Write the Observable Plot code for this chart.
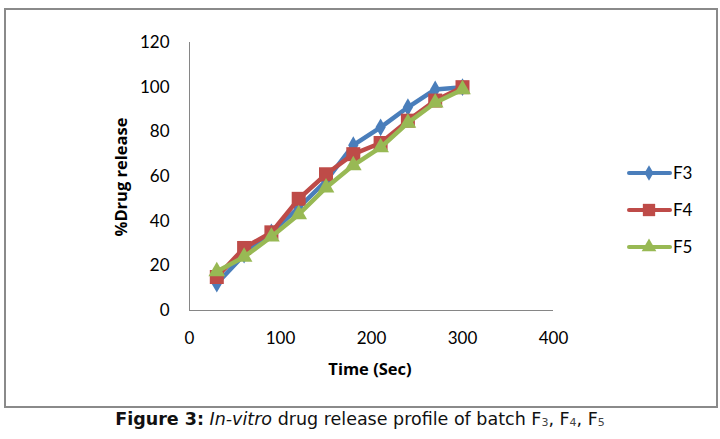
<!DOCTYPE html>
<html><head><meta charset="utf-8">
<script src="https://cdn.jsdelivr.net/npm/d3@7"></script>
<script src="https://cdn.jsdelivr.net/npm/@observablehq/plot@0.6"></script>
<style>
body{margin:0;background:#fff;font-family:Lato,"Open Sans",sans-serif;}
#wrap{position:relative;width:720px;height:439px;overflow:hidden;background:#fff;}
#chart{position:absolute;left:0;top:0;}
#frame{position:absolute;left:4px;top:8px;width:710px;height:396px;border:2px solid #8a8a8a;pointer-events:none;}
.title{position:absolute;font-family:"Open Sans",Lato,sans-serif;font-weight:bold;font-size:16.5px;color:#000;white-space:nowrap;}
#xtitle{left:370px;top:368px;transform:translate(-50%,-50%);}
#ytitle{left:120px;top:177px;transform:translate(-50%,-50%) rotate(-90deg);}
#legend{position:absolute;left:627px;top:0;}
.lrow{position:absolute;left:0;display:flex;align-items:center;font-size:17px;white-space:nowrap;}
.lrow span{margin-left:1px;}
#caption{position:absolute;left:0;width:720px;top:409px;text-align:center;font-family:"DejaVu Sans",sans-serif;font-size:17.5px;color:#111;white-space:nowrap;}
#caption sub{font-size:11px;vertical-align:-1px;color:#444;}
</style></head><body>
<div id="wrap">
<div id="chart"></div>
<div id="frame"></div>
<div id="xtitle" class="title">Time (Sec)</div>
<div id="ytitle" class="title">%Drug release</div>
<div id="legend"></div>
<div id="caption"><b>Figure 3:</b> <i>In-vitro</i> drug release profile of batch F<sub>3</sub>, F<sub>4</sub>, F<sub>5</sub></div>
</div>
<script>
const time = [30, 60, 90, 120, 150, 180, 210, 240, 270, 300];
const f3 = [12, 25, 35, 46, 58, 74, 82, 91, 99, 100];
const f4 = [15, 28, 35, 50, 61, 70, 75, 85, 94, 100];
const f5 = [17.5, 24, 33, 43, 55, 65, 73, 84, 93, 99];
const seriesNames = ["F3", "F4", "F5"];
const seriesValues = [f3, f4, f5];
const colors = ["#4a7ebb", "#be4b48", "#98b954"];
const symbols = ["diamond", "square", "triangle"];
const radii = [5.4, 7.9, 6.2];
const xTicks = [0, 100, 200, 300, 400];
const yTicks = [0, 20, 40, 60, 80, 100, 120];

const rows = [];
seriesNames.forEach((s, i) => time.forEach((t, j) => rows.push({series: s, t, v: seriesValues[i][j]})));

const marks = [
  Plot.ruleX([0], {y1: 0, y2: 120, stroke: "#868686", strokeWidth: 1}),
  Plot.ruleY([0], {x1: 0, x2: 400, stroke: "#868686", strokeWidth: 1})
];
seriesNames.forEach((s, i) => {
  const d = rows.filter(r => r.series === s);
  marks.push(Plot.line(d, {x: "t", y: "v", stroke: colors[i], strokeWidth: 4.5, strokeLinejoin: "round", strokeLinecap: "round"}));
  marks.push(Plot.dot(d, {x: "t", y: "v", symbol: symbols[i], r: radii[i], fill: colors[i], stroke: "none"}));
});

const plot = Plot.plot({
  width: 720, height: 410,
  marginLeft: 189, marginRight: 167, marginTop: 42, marginBottom: 100,
  style: {fontFamily: "Lato, sans-serif", fontSize: "17px", color: "#000", background: "transparent"},
  x: {domain: [0, 400], ticks: xTicks, tickSize: 0, tickPadding: 21, label: null},
  y: {domain: [0, 120], ticks: yTicks, tickSize: 0, tickPadding: 20, label: null},
  marks
});
document.getElementById("chart").appendChild(plot);

const legend = document.getElementById("legend");
const symFns = {diamond: d3.symbolDiamond, square: d3.symbolSquare, triangle: d3.symbolTriangle};
const legendY = [172, 209, 246];
seriesNames.forEach((s, i) => {
  const row = document.createElement("div");
  row.className = "lrow";
  row.style.top = (legendY[i] - 10) + "px";
  const size = Math.PI * Math.pow(radii[i] * 0.88, 2);
  const path = d3.symbol(symFns[symbols[i]], size)();
  row.innerHTML = `<svg width="45" height="20"><line x1="2" x2="43" y1="10" y2="10" stroke="${colors[i]}" stroke-width="4" stroke-linecap="round"/><path transform="translate(22,10)" d="${path}" fill="${colors[i]}"/></svg><span>${s}</span>`;
  legend.appendChild(row);
});
</script>
</body></html>
